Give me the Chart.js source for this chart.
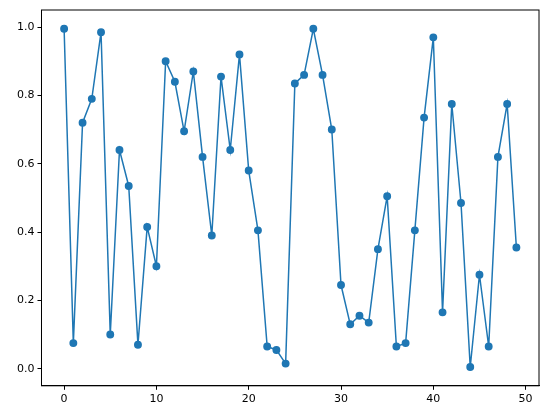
<!DOCTYPE html>
<html>
<head>
<script src="https://cdn.jsdelivr.net/npm/chart.js@4"></script>
<style>body{margin:0;background:#fff}#wrap{width:547px;height:413px}</style>
</head>
<body>
<div id="wrap"><canvas id="c"></canvas></div>
<script>
const xs = Array.from({length: 50}, (_, i) => i);
const ys = [0.995,0.075,0.72,0.79,0.985,0.10,0.64,0.535,0.07,0.415,
  0.30,0.90,0.84,0.695,0.87,0.62,0.39,0.855,0.64,0.92,
  0.58,0.405,0.065,0.055,0.015,0.835,0.86,0.995,0.86,0.70,
  0.245,0.13,0.155,0.135,0.35,0.505,0.065,0.075,0.405,0.735,
  0.97,0.165,0.775,0.485,0.005,0.275,0.065,0.62,0.775,0.355];
const xTicks = [0,10,20,30,40,50];
const yTicks = [0,0.2,0.4,0.6,0.8,1.0];
const blue = '#1f77b4';

new Chart(document.getElementById('c'), {
  type: 'line',
  data: {
    datasets: [{
      data: xs.map((x, i) => ({x, y: ys[i]})),
      borderColor: blue, backgroundColor: blue,
      borderWidth: 1.5, pointRadius: 3.2, pointHoverRadius: 3.2, tension: 0
    }]
  },
  options: {
    responsive: true, maintainAspectRatio: false, animation: false,
    layout: {padding: {top: 10, right: 8, left: 14, bottom: 4}},
    plugins: {legend: {display: false}, tooltip: {enabled: false}},
    scales: {
      x: {
        type: 'linear', min: -2.45, max: 51.45,
        afterBuildTicks: a => { a.ticks = xTicks.map(v => ({value: v})); },
        ticks: {color: '#000', font: {size: 11, family: 'DejaVu Sans'}, callback: v => v},
        grid: {display: true, color: 'rgba(0,0,0,0)', drawTicks: true, tickLength: 4, tickColor: '#000'},
        border: {color: '#000'}
      },
      y: {
        min: -0.05, max: 1.05,
        afterBuildTicks: a => { a.ticks = yTicks.map(v => ({value: v})); },
        ticks: {color: '#000', font: {size: 11, family: 'DejaVu Sans'}, callback: v => v.toFixed(1)},
        grid: {display: true, color: 'rgba(0,0,0,0)', drawTicks: true, tickLength: 4, tickColor: '#000'},
        border: {color: '#000'}
      }
    }
  },
  plugins: [{
    id: 'box',
    afterDraw(ch) {
      const {ctx, chartArea: a} = ch;
      ctx.save(); ctx.strokeStyle = '#000'; ctx.lineWidth = 1;
      ctx.strokeRect(a.left, a.top, a.right - a.left, a.bottom - a.top);
      ctx.restore();
    }
  }]
});
</script>
</body>
</html>
